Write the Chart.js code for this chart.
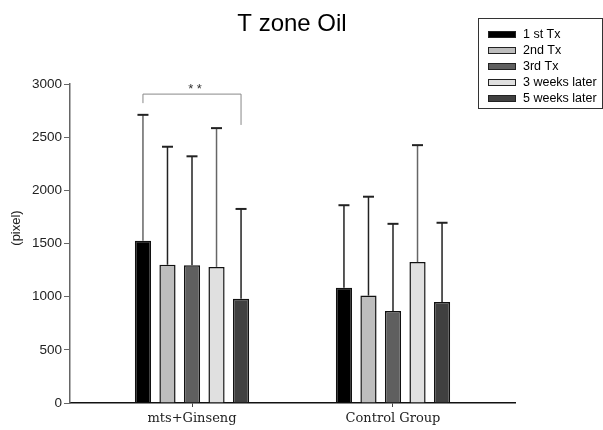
<!DOCTYPE html>
<html>
<head>
<meta charset="utf-8">
<script src="https://cdn.jsdelivr.net/npm/chart.js@4/dist/chart.umd.min.js"></script>
<style>
  html, body { margin: 0; padding: 0; background: #fff; }
  #wrap { width: 603px; height: 430px; position: relative; }
</style>
</head>
<body>
<div id="wrap"><canvas id="oilChart"></canvas></div>
<script>
// Datos
const grupos = ['mts+Ginseng', 'Control Group'];
const series = ['1 st Tx', '2nd Tx', '3rd Tx', '3 weeks later', '5 weeks later'];
const colores = ['#000000', '#bdbdbd', '#5f5f5f', '#e0e0e0', '#404040'];

const tx1 = [1525, 1085];
const tx2 = [1300, 1010];
const tx3 = [1295, 865];
const sem3 = [1280, 1325];
const sem5 = [980, 950];

// desviaciones (solo hacia arriba)
const tx1Err = [1185, 775];
const tx2Err = [1110, 930];
const tx3Err = [1025, 820];
const sem3Err = [1305, 1100];
const sem5Err = [845, 745];

const yTicks = [0, 500, 1000, 1500, 2000, 2500, 3000];

// corchete de significancia (valores en eje y)
const signif = { desde: 0, hasta: 4, grupo: 0, y: 2905, yIzq: 2820, yDer: 2615, texto: '* *' };

const valores = [tx1, tx2, tx3, sem3, sem5];
const errores = [tx1Err, tx2Err, tx3Err, sem3Err, sem5Err];

const datasets = valores.map((v, i) => ({
    label: series[i],
    data: v.map((y, j) => ({ x: j, y: y })),
    backgroundColor: colores[i],
    borderColor: '#111',
    borderWidth: 1.5,
    categoryPercentage: 0.61,
    barPercentage: 0.66,
    errores: errores[i]
}));

// barras de error
const errorBars = {
    id: 'errorBars',
    afterDatasetsDraw(chart) {
        const ctx = chart.ctx;
        const y = chart.scales.y;
        ctx.save();
        chart.data.datasets.forEach((ds, i) => {
            const meta = chart.getDatasetMeta(i);
            meta.data.forEach((bar, j) => {
                const top = y.getPixelForValue(ds.data[j].y + ds.errores[j]);
                ctx.strokeStyle = (i === 0 && j === 0) || i === 3 ? '#666' : '#222';
                ctx.lineWidth = 1.5;
                ctx.beginPath();
                ctx.moveTo(bar.x, bar.y);
                ctx.lineTo(bar.x, top);
                ctx.stroke();
                ctx.strokeStyle = '#222';
                ctx.lineWidth = 2;
                ctx.beginPath();
                ctx.moveTo(bar.x - 5.5, top);
                ctx.lineTo(bar.x + 5.5, top);
                ctx.stroke();
            });
        });
        ctx.restore();
    }
};

// título, leyenda, etiqueta del eje y corchete
const extras = {
    id: 'extras',
    afterDraw(chart) {
        const ctx = chart.ctx;
        const y = chart.scales.y;
        ctx.save();

        ctx.fillStyle = '#000';
        ctx.font = '24px Arial, "Liberation Sans", sans-serif';
        ctx.textAlign = 'center';
        ctx.textBaseline = 'middle';
        ctx.fillText('T zone Oil', 292, 24);

        ctx.save();
        ctx.translate(16, 228);
        ctx.rotate(-Math.PI / 2);
        ctx.font = '13px Arial, "Liberation Sans", sans-serif';
        ctx.fillStyle = '#222';
        ctx.fillText('(pixel)', 0, 0);
        ctx.restore();

        // leyenda
        ctx.strokeStyle = '#333';
        ctx.lineWidth = 1;
        ctx.strokeRect(478.5, 18.5, 124, 90);
        ctx.font = '12.5px Arial, "Liberation Sans", sans-serif';
        ctx.textAlign = 'left';
        series.forEach((s, i) => {
            const yy = 34 + i * 16;
            ctx.fillStyle = colores[i];
            ctx.fillRect(488, yy - 3, 28, 7);
            ctx.strokeStyle = '#222';
            ctx.strokeRect(488.5, yy - 2.5, 27, 6);
            ctx.fillStyle = '#000';
            ctx.fillText(s, 523, yy + 1);
        });

        // corchete
        const m1 = chart.getDatasetMeta(signif.desde).data[signif.grupo];
        const m2 = chart.getDatasetMeta(signif.hasta).data[signif.grupo];
        const yb = y.getPixelForValue(signif.y);
        ctx.strokeStyle = '#888';
        ctx.lineWidth = 1;
        ctx.beginPath();
        ctx.moveTo(m1.x, y.getPixelForValue(signif.yIzq));
        ctx.lineTo(m1.x, yb);
        ctx.lineTo(m2.x, yb);
        ctx.lineTo(m2.x, y.getPixelForValue(signif.yDer));
        ctx.stroke();
        ctx.fillStyle = '#333';
        ctx.font = '13px Arial, "Liberation Sans", sans-serif';
        ctx.textAlign = 'center';
        ctx.fillText(signif.texto, (m1.x + m2.x) / 2 + 3, yb - 5);

        ctx.restore();
    }
};

new Chart(document.getElementById('oilChart'), {
    type: 'bar',
    data: { datasets: datasets },
    options: {
        responsive: true,
        maintainAspectRatio: false,
        animation: false,
        layout: { padding: { top: 84, right: 88, left: 0, bottom: 0 } },
        plugins: {
            legend: { display: false },
            tooltip: { enabled: false }
        },
        scales: {
            x: {
                type: 'linear',
                offset: false,
                min: -0.607,
                max: 1.607,
                afterBuildTicks: (s) => { s.ticks = [{ value: 0 }, { value: 1 }]; },
                afterFit: (s) => { s.height = 27; },
                grid: { display: true, drawOnChartArea: false, drawTicks: true, tickLength: 4, color: '#444', offset: false },
                border: { color: '#111', width: 1.5 },
                ticks: {
                    callback: (v) => grupos[v],
                    color: '#222',
                    font: { family: '"DejaVu Serif", "Liberation Serif", serif', size: 13 },
                    padding: 4,
                    maxRotation: 0
                }
            },
            y: {
                min: 0,
                max: 3000,
                afterBuildTicks: (s) => { s.ticks = yTicks.map(v => ({ value: v })); },
                afterFit: (s) => { s.width = 70; },
                grid: { display: true, drawOnChartArea: false, drawTicks: true, tickLength: 6, color: '#666' },
                border: { color: '#666', width: 1.5 },
                ticks: {
                    callback: (v) => String(v),
                    color: '#222',
                    font: { family: 'Arial, "Liberation Sans", sans-serif', size: 13.5 },
                    padding: 2
                }
            }
        }
    },
    plugins: [errorBars, extras]
});
</script>
</body>
</html>
